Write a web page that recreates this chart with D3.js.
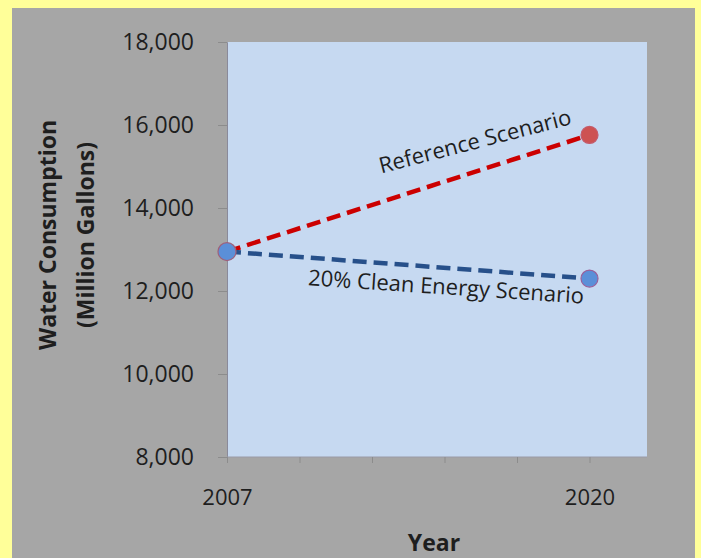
<!DOCTYPE html>
<html>
<head>
<meta charset="utf-8">
<script src="https://cdn.jsdelivr.net/npm/d3@7"></script>
<style>
  html, body { margin: 0; padding: 0; background: #ffff99; }
  svg { display: block; }
  text { font-family: "Open Sans", "Noto Sans", sans-serif; fill: #1e1e1e; }
</style>
</head>
<body>
<div id="chart"></div>
<script>
// data
const years = [2007, 2020];
const referenceValues = [12950, 15760];
const cleanValues = [12950, 12300];
const yTickValues = [8000, 10000, 12000, 14000, 16000, 18000];
const xLabelYears = [2007, 2020];

const outerWidth = 701;
const outerHeight = 558;
const margin = { top: 42, left: 227 };
const width = 420;
const height = 415;

const svg = d3.select('#chart').append('svg')
  .attr('width', outerWidth)
  .attr('height', outerHeight);

// yellow frame + gray panel
svg.append('rect')
  .attr('x', 0).attr('y', 0)
  .attr('width', outerWidth).attr('height', outerHeight)
  .attr('fill', '#ffff99');
svg.append('rect')
  .attr('x', 12).attr('y', 8)
  .attr('width', 683).attr('height', outerHeight - 8)
  .attr('fill', '#a6a6a6');

const g = svg.append('g')
  .attr('transform', `translate(${margin.left},${margin.top})`);

g.append('rect')
  .attr('width', width).attr('height', height)
  .attr('fill', '#c6d9f1');

// 2007 -> 2020 is 5 tick intervals, plot runs a little past 2020
const x = d3.scaleLinear()
  .domain([2007, 2020])
  .range([0, 362.5]);
const y = d3.scaleLinear()
  .domain([8000, 18000])
  .range([height, 0]);

const xTicks = d3.range(6).map(i => 2007 + i * (2020 - 2007) / 5);

const yAxis = d3.axisLeft(y)
  .tickValues(yTickValues)
  .tickSize(9)
  .tickPadding(24)
  .tickFormat(d3.format(','));

const gy = g.append('g').call(yAxis);
gy.select('.domain').attr('stroke', '#8a8a9a');
gy.selectAll('.tick line').attr('stroke', '#8c8c8c');
gy.selectAll('.tick text')
  .style('font-size', '23px')
  .attr('fill', '#262626');

const xAxis = d3.axisBottom(x)
  .tickValues(xTicks)
  .tickSize(6)
  .tickSizeOuter(0)
  .tickPadding(26)
  .tickFormat(d => xLabelYears.includes(Math.round(d)) && Math.abs(d - Math.round(d)) < 1e-6 ? d : '');

const gx = g.append('g')
  .attr('transform', `translate(0,${height})`)
  .call(xAxis);
gx.select('.domain')
  .attr('d', `M0,0H${width}`)
  .attr('stroke', '#9a9aa6');
gx.selectAll('.tick line').attr('stroke', '#8c8c8c');
gx.selectAll('.tick text')
  .style('font-size', '22px')
  .attr('fill', '#262626');

// axis titles
const yTitle = svg.append('text')
  .attr('transform', `translate(56,235) rotate(-90)`)
  .attr('text-anchor', 'middle')
  .style('font-size', '23px')
  .style('font-weight', 'bold');
yTitle.append('tspan').attr('x', 0).attr('dy', 0).text('Water Consumption');
yTitle.append('tspan').attr('x', 0).attr('dy', 38).text('(Million Gallons)');

svg.append('text')
  .attr('x', 434)
  .attr('y', 551)
  .attr('text-anchor', 'middle')
  .style('font-size', '23px')
  .style('font-weight', 'bold')
  .text('Year');

// series
const series = [
  { name: 'Reference Scenario', values: referenceValues, color: '#cc0000', end: '#cd5252', ring: '#c45a6a' },
  { name: '20% Clean Energy Scenario', values: cleanValues, color: '#27508a', end: '#5b8fd8', ring: '#9a5f9a' }
];

const line = d3.line()
  .x((d, i) => x(years[i]))
  .y(d => y(d));

g.selectAll('.series')
  .data(series)
  .join('path')
  .attr('class', 'series')
  .attr('d', d => line(d.values))
  .attr('fill', 'none')
  .attr('stroke', d => d.color)
  .attr('stroke-width', 4.5)
  .attr('stroke-dasharray', '14,7');

// end markers
series.forEach(s => {
  g.append('circle')
    .attr('cx', x(years[1]))
    .attr('cy', y(s.values[1]))
    .attr('r', 8.5)
    .attr('fill', s.end)
    .attr('stroke', s.ring)
    .attr('stroke-width', 1.2);
});
g.append('circle')
  .attr('cx', x(years[0]))
  .attr('cy', y(cleanValues[0]))
  .attr('r', 9)
  .attr('fill', '#5b8fd8')
  .attr('stroke', '#a0607a')
  .attr('stroke-width', 1.2);

// series labels
g.append('text')
  .attr('transform', `translate(${x(years[1]) - 17},${y(referenceValues[1]) - 11}) rotate(-14.5)`)
  .attr('text-anchor', 'end')
  .style('font-size', '22px')
  .text(series[0].name);

g.append('text')
  .attr('transform', `translate(${x(years[1]) - 6},${y(cleanValues[1]) + 25}) rotate(3.8)`)
  .attr('text-anchor', 'end')
  .style('font-size', '22px')
  .text(series[1].name);
</script>
</body>
</html>
